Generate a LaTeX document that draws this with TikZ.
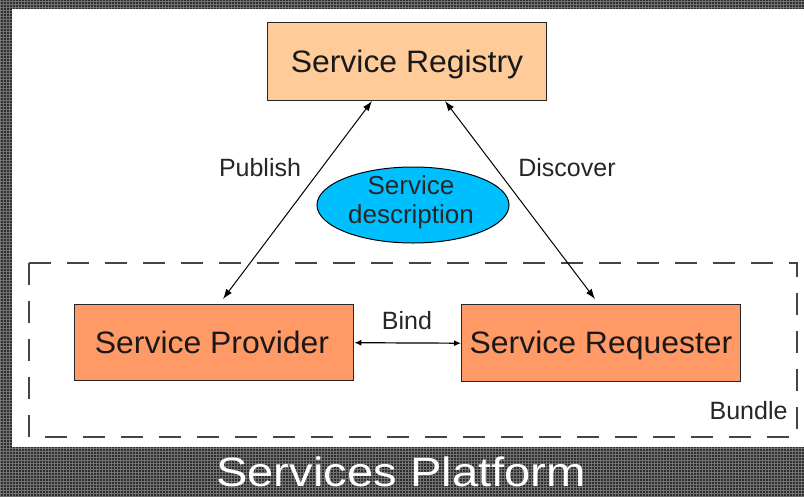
\documentclass[tikz,border=0pt]{standalone}
\usepackage{fontspec}
\setmainfont{Liberation Sans}
\usetikzlibrary{arrows.meta,patterns,shapes.geometric}
\definecolor{registryfill}{HTML}{FFCC99}
\definecolor{partyfill}{HTML}{FF9966}
\definecolor{descfill}{HTML}{00BFFF}
\definecolor{framedark}{HTML}{2E2E2E}
\definecolor{bundleline}{HTML}{444444}
\tikzset{
  svcbox/.style={draw=black!85, line width=1.4pt, inner sep=0pt, anchor=north west},
  boxtext/.style={font=\fontsize{31}{35}\selectfont, text=black!90, anchor=base, inner sep=0pt},
  lbl/.style={font=\fontsize{25}{29}\selectfont, text=black!85},
  link/.style={draw=black, line width=1pt, {Latex[length=10pt,width=7pt]}-{Latex[length=10pt,width=7pt]}},
  bindlink/.style={draw=black, line width=1.2pt, {Latex[length=7pt,width=6pt]}-{Latex[length=7pt,width=6pt]}},
}
\begin{document}
\begin{tikzpicture}[x=1pt,y=-1pt]
  \useasboundingbox (0,0) rectangle (804,496);
  % textured dark frame
  \fill[framedark] (0,0) rectangle (804,496);
  \fill[pattern=grid, pattern color=black!55] (0,0) rectangle (804,496);
  % white canvas
  \fill[white] (12,9) rectangle (804,447);

  % bundle boundary
  \draw[bundleline, line width=2pt, dash pattern=on 22pt off 16pt] (29,263) rectangle (797,437);
  \node[lbl, anchor=base east] (bundle) at (791,419) {Bundle};

  % services
  \node[svcbox, fill=registryfill, minimum width=279pt, minimum height=78pt] (reg) at (267,22) {};
  \node[boxtext] (regtxt) at (407,72) {\scalebox{1.03}[1]{Service Registry}};
  \node[svcbox, fill=partyfill, minimum width=279pt, minimum height=76pt] (prov) at (74,304) {};
  \node[boxtext] (provtxt) at (212,353) {\scalebox{1.03}[1]{Service Provider}};
  \node[svcbox, fill=partyfill, minimum width=279pt, minimum height=77pt] (req) at (461,304) {};
  \node[boxtext] (reqtxt) at (601,353) {\scalebox{1.03}[1]{Service Requester}};

  % service description
  \node[ellipse, draw=black, line width=1pt, fill=descfill, minimum width=192pt, minimum height=76pt,
        inner sep=0pt] (desc) at (413,205) {};
  \node[lbl, font=\fontsize{26}{30}\selectfont, align=center] (desctxt) at (411,202)
        {Service\\[-1pt]description};

  % connectors
  \coordinate (regL) at (372,101);
  \coordinate (regR) at (445,101);
  \coordinate (provT) at (223,299);
  \coordinate (reqT) at (595,299);
  \draw[link] (provT) -- (regL);
  \draw[link] (reqT) -- (regR);
  \draw[bindlink] (prov.east) -- (req.west);

  % labels
  \node[lbl] (pub) at (260,168) {Publish};
  \node[lbl] (disc) at (567,168) {Discover};
  \node[lbl] (bind) at (407,321) {Bind};

  % caption
  \node[text=white, font=\fontsize{41}{46}\selectfont] (cap) at (401,472)
        {\scalebox{1.15}[1]{Services Platform}};
\end{tikzpicture}
\end{document}
